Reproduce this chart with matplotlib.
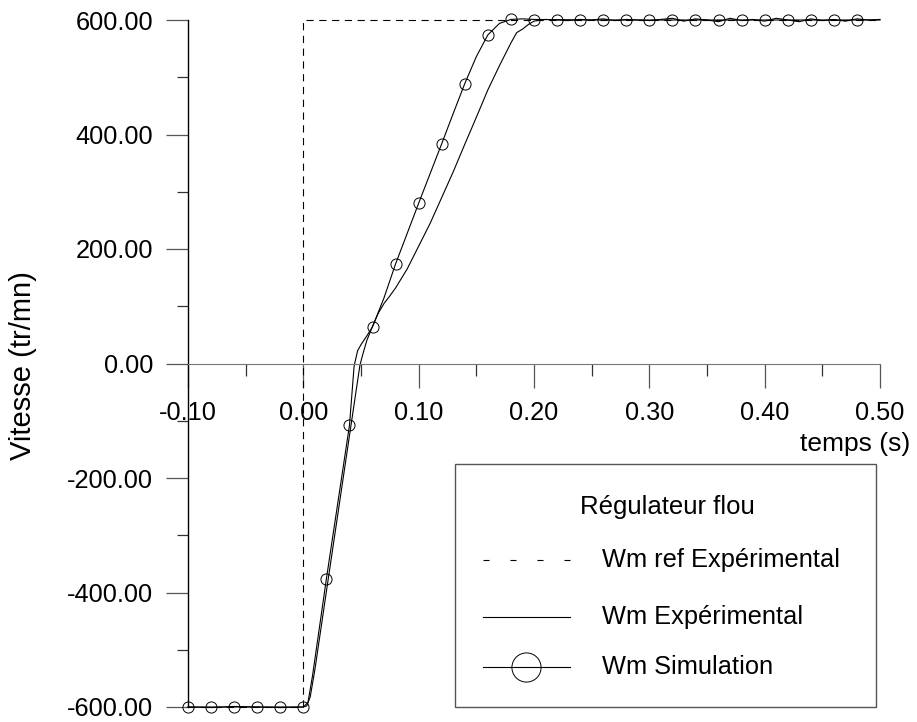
import numpy as np
import matplotlib
matplotlib.use("Agg")
from matplotlib import pyplot as plt
from matplotlib.lines import Line2D
from matplotlib.patches import Rectangle
from matplotlib.ticker import MultipleLocator, FormatStrFormatter

plt.rcParams['font.family'] = ['Liberation Sans', 'DejaVu Sans']

# Consigne de vitesse (echelon -600 -> 600 a t=0)
ref_t = [-0.10, 0.0, 0.0, 0.50]
ref_v = [-600, -600, 600, 600]

# Simulation (courbe)
sim_t = [-0.10, 0.00, 0.004, 0.008, 0.02, 0.03, 0.04, 0.044, 0.047, 0.05, 0.055, 0.06,
         0.07, 0.08, 0.09, 0.10, 0.11, 0.12, 0.13, 0.14, 0.15, 0.16, 0.17, 0.18,
         0.19, 0.20, 0.25, 0.50]
sim_v = [-600, -600, -592, -545, -376, -242, -108, -5, 22, 33, 48, 64,
         115, 174, 227, 280, 332, 384, 437, 489, 536, 574, 594, 601,
         602, 601, 600, 600]

# Simulation (points marques tous les 0.02 s)
sim_mark_t = [-0.10, -0.08, -0.06, -0.04, -0.02, 0.00, 0.02, 0.04, 0.06, 0.08,
              0.10, 0.12, 0.14, 0.16, 0.18, 0.20, 0.22, 0.24, 0.26, 0.28,
              0.30, 0.32, 0.34, 0.36, 0.38, 0.40, 0.42, 0.44, 0.46, 0.48]
sim_mark_v = [-600, -600, -600, -600, -600, -600, -376, -108, 64, 174,
              280, 384, 489, 574, 601, 600, 600, 600, 600, 600,
              600, 600, 600, 600, 600, 600, 600, 600, 600, 600]

# Experimental
exp_t = [-0.10, -0.08, -0.06, -0.04, -0.02, 0.00, 0.003, 0.006, 0.01, 0.02, 0.03,
         0.04, 0.045, 0.049, 0.051, 0.055, 0.06, 0.065, 0.07, 0.075, 0.08, 0.09,
         0.10, 0.11, 0.12, 0.13, 0.14, 0.15, 0.16, 0.17, 0.18, 0.185, 0.19, 0.195,
         0.20, 0.21, 0.22, 0.23, 0.24, 0.25, 0.26, 0.27, 0.28, 0.29, 0.30, 0.31,
         0.32, 0.33, 0.34, 0.35, 0.36, 0.37, 0.38, 0.39, 0.40, 0.41, 0.42, 0.43,
         0.44, 0.45, 0.46, 0.47, 0.48, 0.49, 0.50]
exp_v = [-600, -601, -599, -600, -601, -600, -598, -582, -535, -398, -262,
         -126, -58, -4, 12, 40, 65, 88, 105, 118, 132, 165,
         205, 245, 290, 335, 383, 430, 478, 520, 560, 578, 584, 592,
         598, 601, 600, 599, 601, 600, 602, 599, 601, 600, 599, 601,
         603, 598, 602, 600, 597, 603, 599, 601, 598, 603, 600, 597,
         602, 599, 601, 598, 602, 600, 601]

W, H = 917, 722
fig = plt.figure(figsize=(W / 100, H / 100), dpi=100)
ax = fig.add_axes([188 / W, 1 - 707 / H, (880 - 188) / W, (707 - 20) / H])

ax.plot(ref_t, ref_v, color='black', lw=0.8, dashes=(6.5, 5), clip_on=False)
ax.plot(exp_t, exp_v, color='black', lw=0.8, clip_on=False)
ax.plot(sim_t, sim_v, color='black', lw=0.8, clip_on=False)
ax.plot(sim_mark_t, sim_mark_v, ls='none', marker='o', ms=8, mfc='none',
        mec='black', mew=0.7, clip_on=False)

ax.set_xlim(-0.10, 0.50)
ax.set_ylim(-600, 600)
ax.spines['top'].set_visible(False)
ax.spines['right'].set_visible(False)
ax.spines['bottom'].set_position(('data', 0))
ax.spines['bottom'].set_color('#777777')
ax.spines['left'].set_color('black')
ax.spines['left'].set_linewidth(1.0)

ax.xaxis.set_major_locator(MultipleLocator(0.1))
ax.xaxis.set_minor_locator(MultipleLocator(0.05))
ax.yaxis.set_major_locator(MultipleLocator(200))
ax.yaxis.set_minor_locator(MultipleLocator(100))
ax.xaxis.set_major_formatter(FormatStrFormatter('%.2f'))
ax.yaxis.set_major_formatter(FormatStrFormatter('%.2f'))

ax.tick_params(axis='x', which='major', length=17, width=0.9, color='#555555',
               pad=10, labelsize=18.3)
ax.tick_params(axis='x', which='minor', length=8.5, width=0.9, color='#333333')
ax.tick_params(axis='y', which='major', length=16, width=0.9, color='#555555',
               pad=9, labelsize=18.3)
ax.tick_params(axis='y', which='minor', length=8, width=0.9, color='#333333')


def fx(x):
    return x / W


def fy(y):
    return 1 - y / H


fig.text(fx(910), fy(444), 'temps (s)', ha='right', va='center', fontsize=19)
fig.text(fx(23), fy(366), 'Vitesse (tr/mn)', ha='center', va='center',
         rotation=90, fontsize=21)

# Legende
fig.add_artist(Rectangle((fx(455), fy(707)), fx(876 - 455), (707 - 464) / H,
                         transform=fig.transFigure, fill=False,
                         edgecolor='#555555', lw=1.0))
fig.text(fx(667), fy(507), 'Régulateur flou', ha='center', va='center', fontsize=18.5)
rows = [(560, 'Wm ref Expérimental'), (617, 'Wm Expérimental'), (667, 'Wm Simulation')]
fig.add_artist(Line2D([fx(483), fx(570)], [fy(560), fy(560)], color='black',
                      lw=0.8, dashes=(5.4, 18.9)))
fig.add_artist(Line2D([fx(483), fx(570)], [fy(617), fy(617)], color='black', lw=0.8))
fig.add_artist(Line2D([fx(483), fx(570)], [fy(667), fy(667)], color='black', lw=0.8))
fig.add_artist(Line2D([fx(526)], [fy(667)], marker='o', ms=21, mfc='none',
                      mec='black', mew=0.7))
for y, label in rows:
    fig.text(fx(602), fy(y), label, ha='left', va='center', fontsize=18.3)

fig.savefig('out.png', dpi=100)
